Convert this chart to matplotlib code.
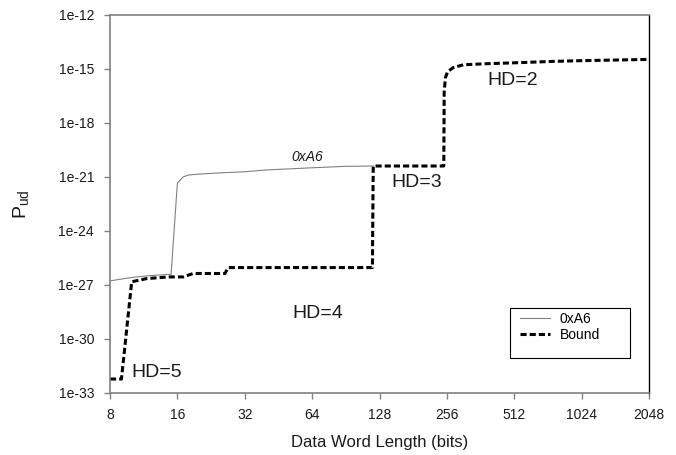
import matplotlib
matplotlib.use("Agg")
import matplotlib.pyplot as plt
import matplotlib.patches as mpatches
import numpy as np

plt.rcParams['font.family'] = ['Liberation Sans', 'DejaVu Sans']
plt.rcParams['mathtext.fontset'] = 'custom'
plt.rcParams['mathtext.rm'] = 'Liberation Sans'

# ---- data (log10 of P_ud) ----
bound_x = [8, 9, 10, 11.7, 14.8, 17, 18.8, 26.1, 27, 119, 120, 248, 249, 252, 258, 273, 303, 385, 512, 764, 1024, 2048]
bound_logp = [-32.25, -32.25, -26.84, -26.66, -26.57, -26.57, -26.38, -26.38, -26.05, -26.05,
              -20.4, -20.4, -16.3, -15.5, -15.15, -14.93, -14.77, -14.71, -14.66, -14.58, -14.54, -14.47]

a6_x = [8, 10, 12, 15, 16, 17, 18, 20, 26, 32, 40, 64, 90, 120]
a6_logp = [-26.79, -26.6, -26.5, -26.42, -21.35, -21.0, -20.9, -20.85, -20.77, -20.72,
           -20.62, -20.5, -20.42, -20.4]

x_ticks = [8, 16, 32, 64, 128, 256, 512, 1024, 2048]
y_exps = [-12, -15, -18, -21, -24, -27, -30, -33]

hd_labels = ["HD=5", "HD=4", "HD=3", "HD=2"]
hd_x = [10.0, 52, 145, 390]
hd_logp = [-31.9, -28.6, -21.33, -15.64]

fig = plt.figure(figsize=(6.76, 4.55), dpi=100)
ax = fig.add_axes([110 / 676, 1 - 392.5 / 455, 539 / 676, 377.5 / 455])

ax.plot(a6_x, 10.0 ** np.array(a6_logp), color='#808080', lw=0.8, label='0xA6')
ax.plot(bound_x, 10.0 ** np.array(bound_logp), color='black', lw=2.2,
        linestyle=(0, (2, 1)), label='Bound')

ax.set_xscale('log', base=2)
ax.set_yscale('log')
ax.set_xlim(8, 2048)
ax.set_ylim(1e-33, 1e-12)
ax.set_xticks(x_ticks)
ax.set_xticklabels([str(t) for t in x_ticks])
ax.set_yticks([10.0 ** e for e in y_exps])
ax.set_yticklabels([f"1e{e}" for e in y_exps])
ax.minorticks_off()

for side in ['left', 'top', 'bottom']:
    ax.spines[side].set_color('#808080')
    ax.spines[side].set_linewidth(1.2)
ax.spines['right'].set_color('black')
ax.spines['right'].set_linewidth(1.0)
ax.tick_params(axis='both', direction='out', length=4.5, width=1.0, color='#808080',
               labelsize=10, labelcolor='#1a1a1a', pad=7)

ax.set_xlabel('Data Word Length (bits)', fontsize=12, color='#1a1a1a', labelpad=9)
ax.set_ylabel(r'P$_{\mathrm{ud}}$', fontsize=14, color='#1a1a1a', labelpad=19)

for lab, x, lp in zip(hd_labels, hd_x, hd_logp):
    ax.text(x, 10.0 ** lp, lab, fontsize=14, color='#1a1a1a', ha='left', va='center')
ax.text(51.8, 10.0 ** -19.9, '0xA6', fontsize=10, style='italic', color='#1a1a1a',
        ha='left', va='center')

leg = ax.legend(loc='upper left', bbox_to_anchor=(0.742, 0.239), frameon=False,
                fontsize=10, handlelength=2.2, handletextpad=0.7, labelspacing=0.15,
                borderaxespad=0.3)
box = mpatches.Rectangle((0.742, 0.091), 0.223, 0.133, transform=ax.transAxes,
                         fill=False, edgecolor='black', lw=0.8, zorder=5)
ax.add_patch(box)

fig.savefig('out.png', dpi=100)
